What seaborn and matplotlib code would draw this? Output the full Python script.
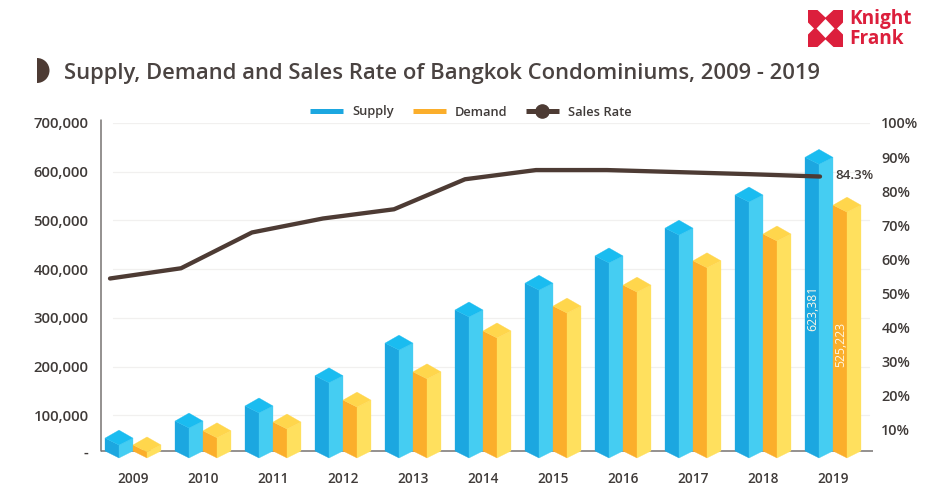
import matplotlib
matplotlib.use("Agg")
import matplotlib.pyplot as plt
from matplotlib.lines import Line2D
from matplotlib.patches import Polygon, Wedge
import pandas as pd
import seaborn as sns

years = ["2009", "2010", "2011", "2012", "2013", "2014", "2015", "2016", "2017", "2018", "2019"]
supply = [47000, 82000, 113000, 175000, 242000, 310000, 365000, 421000, 478000, 546000, 623381]
demand = [33000, 62000, 80000, 125000, 183000, 267000, 318000, 361000, 411000, 466000, 525223]
sales_rate = [54.4, 57.4, 67.9, 72.0, 74.7, 83.5, 86.2, 86.2, 85.6, 85.0, 84.3]
left_ticks = [100000, 200000, 300000, 400000, 500000, 600000, 700000]
right_ticks = [10, 20, 30, 40, 50, 60, 70, 80, 90, 100]

INK = "#3f3a38"
BROWN = "#4d3b34"
FONT = "Open Sans"
W, H = 927, 499

sns.set_theme(style="white")
plt.rcParams["font.family"] = [FONT, "DejaVu Sans"]

fig = plt.figure(figsize=(W / 100, H / 100), dpi=100, facecolor="white")
AX_L, AX_R, AX_T, AX_B = 101, 873, 123, 464
rect = [AX_L / W, 1 - AX_B / H, (AX_R - AX_L) / W, (AX_B - AX_T) / H]
ax = fig.add_axes(rect)

table = pd.DataFrame({
    "Year": years * 2,
    "Units": supply + demand,
    "Series": ["Supply"] * len(years) + ["Demand"] * len(years),
})
sns.barplot(data=table, x="Year", y="Units", hue="Series", width=0.8, gap=0,
            palette=["#1ca7e0", "#fbae2b"], legend=False, ax=ax)

ax.set_ylim(0, 700000)
ax.set_xlim(-32 / 70, (AX_R - AX_L - 32) / 70)
units_per_px = 700000 / (AX_B - AX_T)
baseline = (AX_B - 451) * units_per_px

shades = [("#1ca7e0", "#45cdf2", "#1abcf0"), ("#fbae2b", "#ffe05e", "#ffd64c")]
for container, (left_c, right_c, top_c) in zip(ax.containers, shades):
    for bar in container:
        v = bar.get_height()
        x0, x1 = bar.get_x(), bar.get_x() + bar.get_width()
        xm = (x0 + x1) / 2
        bar.set_visible(False)
        corner = v + 3 * units_per_px
        front = v - 4 * units_per_px
        apex = v + 11 * units_per_px
        foot = baseline - 7 * units_per_px
        ax.add_patch(Polygon([(x0, baseline), (xm, foot), (xm, front), (x0, corner)],
                             fc=left_c, ec=left_c, lw=0.2, zorder=3, clip_on=False))
        ax.add_patch(Polygon([(x1, baseline), (xm, foot), (xm, front), (x1, corner)],
                             fc=right_c, ec=right_c, lw=0.2, zorder=3, clip_on=False))
        ax.add_patch(Polygon([(x0, corner), (xm, front), (x1, corner), (xm, apex)],
                             fc=top_c, ec=top_c, lw=0.2, zorder=4, clip_on=False))

# Faint gridlines, plus the axes lines with a small overshoot at the top
for t in left_ticks:
    ax.plot([0.015, 0.995], [t, t], transform=ax.get_yaxis_transform(),
            color="#f1f0ef", lw=0.9, zorder=1)
x_left = ax.get_xlim()[0]
ax.plot([x_left, ax.get_xlim()[1]], [baseline, baseline], color="#777372", lw=1.1, zorder=2)
ax.plot([x_left, x_left], [baseline, 706000], color="#777372", lw=1.1, zorder=2, clip_on=False)

sns.despine(ax=ax, left=True, bottom=True, right=True, top=True)
ax.set_xlabel("")
ax.set_ylabel("")
ax.set_yticks([baseline] + left_ticks)
ax.set_yticklabels(["-"] + [f"{t:,}" for t in left_ticks])
ax.tick_params(axis="y", length=0, pad=9, labelsize=10.7, labelcolor=INK)
ax.tick_params(axis="x", length=0, pad=6, labelsize=9.8, labelcolor=INK)
for lab in ax.get_yticklabels() + ax.get_xticklabels():
    lab.set_fontweight("semibold")

# Value labels on the latest pair of bars
bars_s, bars_d = ax.containers
for bar, val, factor in [(bars_s[-1], supply[-1], 0.514), (bars_d[-1], demand[-1], 0.468)]:
    ax.text(bar.get_x() + bar.get_width() * 0.27, val * factor, f"{val:,}", rotation=90,
            color="#fdf7e6", fontsize=8.8, ha="center", va="center", zorder=6)

# Sales rate on its own scale, laid over the bars
rate_ax = fig.add_axes(rect, facecolor="none")
rate_ax.set_ylim(0, 100)
rate_ax.set_xlim(-(110 - AX_L) / 71, (AX_R - 110) / 71)
rate_df = pd.DataFrame({"pos": range(len(years)), "rate": sales_rate})
sns.lineplot(data=rate_df, x="pos", y="rate", color=BROWN, lw=3.1, ax=rate_ax, zorder=7,
             solid_capstyle="round", legend=False)
rate_ax.set_xticks([])
rate_ax.set_xlabel("")
rate_ax.set_ylabel("")
rate_ax.yaxis.tick_right()
rate_ax.set_yticks(right_ticks)
rate_ax.set_yticklabels([f"{t}%" for t in right_ticks])
rate_ax.tick_params(axis="y", length=0, pad=6, labelsize=10.4, labelcolor=INK)
for lab in rate_ax.get_yticklabels():
    lab.set_fontweight("semibold")
sns.despine(ax=rate_ax, left=True, bottom=True, right=True, top=True)
rate_ax.annotate(f"{sales_rate[-1]}%", (len(years) - 1, sales_rate[-1]), xytext=(11, 1),
                 textcoords="offset points", color=INK, fontsize=9.6, fontweight="semibold",
                 va="center", ha="left", annotation_clip=False, zorder=8)

handles = [
    Line2D([], [], color="#1ca7e0", lw=3.6, solid_capstyle="butt"),
    Line2D([], [], color="#fbae2b", lw=3.6, solid_capstyle="butt"),
    Line2D([], [], color=BROWN, lw=3.6, marker="o", ms=9.5, solid_capstyle="butt"),
]
fig.legend(handles, ["Supply", "Demand", "Sales Rate"], loc="center", ncol=3,
           bbox_to_anchor=(471 / W, 1 - 112 / H), frameon=False, handlelength=2.55,
           handletextpad=0.7, columnspacing=1.45, labelcolor=INK,
           prop={"family": FONT, "size": 9.3, "weight": "semibold"})

fig.text(64 / W, 1 - 73 / H, "Supply, Demand and Sales Rate of Bangkok Condominiums, 2009 - 2019",
         color="#4a4341", fontsize=15.8, fontweight="semibold", va="center", ha="left")

# Pixel-space overlay for the heading marker and the company logo
deco = fig.add_axes([0, 0, 1, 1], facecolor="none")
deco.set_xlim(0, W)
deco.set_ylim(H, 0)
deco.axis("off")
deco.add_patch(Wedge((37, 70.5), 12.5, -90, 90, fc=BROWN, ec="none"))

RED = "#dc1f3c"
lx0, lx1, ly0, ly1 = 808, 843, 10, 47
cx, cy = (lx0 + lx1) / 2, (ly0 + ly1) / 2
deco.add_patch(Polygon([(lx0, ly0), (lx1, ly0), (lx1, ly1), (lx0, ly1)], fc=RED, ec="none"))
for pts in [
    [(cx - 9, cy), (cx, cy - 9.5), (cx + 9, cy), (cx, cy + 9.5)],
    [(cx - 8, ly0), (cx + 8, ly0), (cx, ly0 + 7.5)],
    [(cx - 8, ly1), (cx + 8, ly1), (cx, ly1 - 7.5)],
    [(lx0, cy - 6), (lx0, cy + 6), (lx0 + 6, cy)],
    [(lx1, cy - 6), (lx1, cy + 6), (lx1 - 6, cy)],
]:
    deco.add_patch(Polygon(pts, fc="white", ec="none"))
deco.text(849, 18.5, "Knight", color=RED, fontsize=13.7, fontweight="bold", va="center", ha="left")
deco.text(849, 38.5, "Frank", color=RED, fontsize=13.7, fontweight="bold", va="center", ha="left")

fig.savefig("out.png", dpi=100)
